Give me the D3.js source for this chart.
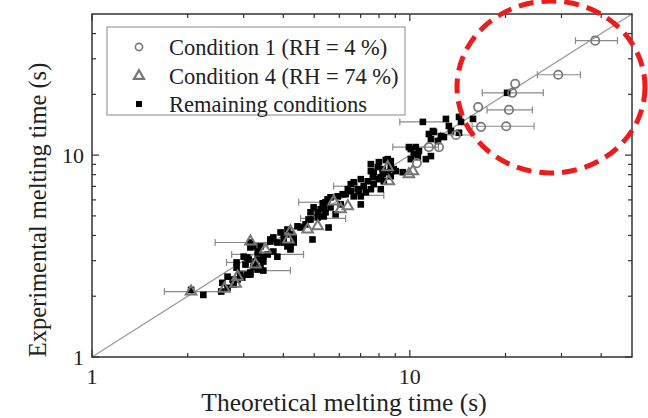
<!DOCTYPE html>
<html><head><meta charset="utf-8">
<script src="https://cdn.jsdelivr.net/npm/d3@7/dist/d3.min.js"></script>
<style>body{margin:0;background:#fff}svg{display:block}</style>
</head><body>
<svg id="c" width="648" height="418"></svg>
<script>
// ---- data ----
const xDomain = [1, 50];
const yDomain = [1, 50];
const majorTicks = [1, 10];
const minorTicks = [2,3,4,5,6,7,8,9,20,30,40];
const tickLabels = ["1", "10"];
const xTitle = "Theoretical melting time (s)";
const yTitle = "Experimental melting time (s)";
const legendLabels = ["Condition 1 (RH = 4 %)", "Condition 4 (RH = 74 %)", "Remaining conditions"];

// Condition 1 (open circles)
const cond1X = [38.3, 29.3, 21.45, 21.0, 16.4, 20.5, 16.75, 20.1, 13.97, 12.35, 11.48, 10.52];
const cond1Y = [36.9, 25.0, 22.55, 20.35, 17.3, 16.75, 13.8, 13.9, 12.58, 10.96, 10.96, 9.13];

// Condition 4 (open triangles)
const cond4X = [2.05, 2.61, 2.83, 2.87, 3.15, 3.51, 3.27, 4.15, 4.21, 4.77, 5.13, 5.76, 6.06, 6.38, 8.52, 8.59, 9.93, 10.22];
const cond4Y = [2.11, 2.18, 2.31, 2.50, 3.73, 3.41, 2.87, 3.82, 4.19, 4.28, 4.44, 5.90, 5.39, 5.58, 8.72, 7.42, 8.04, 8.33];

// Remaining conditions (filled squares)
const remX = [2.05,2.24,2.55,2.67,2.79,2.87,2.97,3.08,3.15,2.85,3.00,3.11,3.22,3.32,3.15,3.22,3.34,3.46,3.32,3.46,
  3.39,3.46,2.57,2.77,2.93,3.57,3.64,3.72,3.83,3.92,4.01,4.01,4.12,4.12,4.21,4.21,4.31,4.31,4.43,3.72,
  3.83,3.32,3.39,3.15,3.08,3.15,4.87,5.13,5.36,5.55,4.94,5.32,5.63,5.51,5.24,5.36,5.63,5.13,5.43,4.80,
  6.52,6.28,6.52,6.66,6.91,7.01,7.16,7.27,7.37,7.54,7.54,7.65,7.70,7.70,7.93,7.99,7.99,8.10,8.22,8.28,
  8.52,8.52,8.71,8.71,9.03,9.50,10.07,10.44,10.68,10.29,10.07,10.60,11.65,10.99,11.48,11.91,11.65,12.26,12.99,14.28,
  15.80,13.27,11.82,12.80,20.23,8.40,7.54,8.22,8.71,8.10,6.66,6.38,6.15,6.85,7.01,5.93,5.43,4.98,4.87,8.90,
  11.23,9.93,3.64,4.21,2.67,3.04,3.27,4.53,4.70,5.84,6.06,14.49,12.53,14.28,13.47,7.01,2.85];
const remY = [2.15,2.03,2.11,2.20,2.28,2.42,2.47,2.56,2.62,2.77,3.14,3.04,2.80,2.71,3.69,3.53,3.33,3.14,3.04,2.97,
  2.77,2.68,2.33,2.42,2.56,3.22,3.73,3.91,3.69,4.14,3.95,3.69,4.28,3.53,4.05,3.41,3.91,3.69,4.44,3.33,
  3.14,3.29,3.53,3.49,3.11,2.56,4.80,4.91,4.97,4.38,3.82,5.77,6.18,6.04,5.39,5.58,5.51,5.21,5.21,4.80,
  7.18,6.40,6.62,6.25,6.62,7.60,7.01,6.55,7.42,8.33,6.78,7.77,8.23,7.18,8.72,9.23,7.60,6.78,8.04,7.42,
  9.55,8.23,9.34,8.82,8.33,8.23,10.71,10.96,10.47,10.12,9.55,9.77,9.89,14.60,12.72,13.02,12.01,11.74,15.11,15.46,
  15.11,13.94,13.16,12.29,20.35,9.45,9.02,8.52,7.86,7.77,7.34,6.78,6.40,6.78,6.25,6.25,5.84,5.51,5.21,8.52,
  9.55,10.96,3.82,3.53,2.50,2.87,2.97,4.38,4.54,5.09,5.70,14.60,12.43,12.90,13.16,5.70,2.94];

// Horizontal error bars: y value, lower x, upper x
const errY  = [2.11, 2.94, 3.69, 2.68, 3.22, 4.86, 5.84, 7.01, 6.32, 10.96, 14.60, 12.58, 16.75, 20.35, 13.9, 25.0, 36.9];
const errLo = [1.69, 2.65, 2.44, 2.85, 2.75, 4.53, 4.47, 5.76, 6.61, 8.84, 9.30, 12.5, 17.5, 16.9, 15.7, 25.2, 33.2];
const errHi = [2.53, 3.10, 4.05, 4.21, 4.63, 6.28, 5.50, 6.85, 8.28, 12.3, 13.2, 15.9, 24.3, 26.3, 24.6, 34.4, 45.0];

// ---- chart ----
const svg = d3.select("#c");
const L = 92, R = 632, T = 14, B = 357;
const x = d3.scaleLog().domain(xDomain).range([L, R]);
const y = d3.scaleLog().domain(yDomain).range([B, T]);
const serif = "'Liberation Serif','Times New Roman',serif";
const axisCol = "#333";
const markCol = "#777";

// error bars
const eb = svg.append("g").attr("stroke", "#8a8a8a").attr("stroke-width", 1.2).attr("fill", "none");
errY.forEach((v, i) => {
  eb.append("line").attr("x1", x(errLo[i])).attr("x2", x(errHi[i])).attr("y1", y(v)).attr("y2", y(v));
  [errLo[i], errHi[i]].forEach(e => eb.append("line").attr("x1", x(e)).attr("x2", x(e)).attr("y1", y(v) - 3.5).attr("y2", y(v) + 3.5));
});

// diagonal
svg.append("line").attr("x1", x(1)).attr("y1", y(1)).attr("x2", x(50)).attr("y2", y(50))
  .attr("stroke", "#9a9a9a").attr("stroke-width", 1.3);

// squares
svg.append("g").selectAll("rect").data(d3.range(remX.length)).join("rect")
  .attr("x", i => x(remX[i]) - 3.3).attr("y", i => y(remY[i]) - 3.3)
  .attr("width", 6.6).attr("height", 6.6).attr("fill", "#000");

// triangles
const tri = d3.symbol().type(d3.symbolTriangle).size(48);
svg.append("g").selectAll("path").data(d3.range(cond4X.length)).join("path")
  .attr("d", tri).attr("transform", i => `translate(${x(cond4X[i])},${y(cond4Y[i])})`)
  .attr("fill", "none").attr("stroke", markCol).attr("stroke-width", 2);

// circles
svg.append("g").selectAll("circle").data(d3.range(cond1X.length)).join("circle")
  .attr("cx", i => x(cond1X[i])).attr("cy", i => y(cond1Y[i])).attr("r", 4.2)
  .attr("fill", "none").attr("stroke", markCol).attr("stroke-width", 1.7);

// frame
svg.append("rect").attr("x", L).attr("y", T).attr("width", R - L).attr("height", B - T)
  .attr("fill", "none").attr("stroke", axisCol).attr("stroke-width", 1.5);

// ticks (inward on all four sides)
const tg = svg.append("g").attr("stroke", axisCol).attr("stroke-width", 1.2);
const allTicks = majorTicks.concat(minorTicks);
allTicks.forEach(t => {
  const len = majorTicks.includes(t) ? 7 : 4;
  tg.append("line").attr("x1", x(t)).attr("x2", x(t)).attr("y1", B).attr("y2", B - len);
  tg.append("line").attr("x1", x(t)).attr("x2", x(t)).attr("y1", T).attr("y2", T + len);
  tg.append("line").attr("y1", y(t)).attr("y2", y(t)).attr("x1", L).attr("x2", L + len);
  tg.append("line").attr("y1", y(t)).attr("y2", y(t)).attr("x1", R).attr("x2", R - len);
});

// tick labels
majorTicks.forEach((t, i) => {
  svg.append("text").attr("x", x(t)).attr("y", 384).attr("text-anchor", "middle")
    .attr("font-family", serif).attr("font-size", 22).attr("fill", "#222").text(tickLabels[i]);
  svg.append("text").attr("x", 84).attr("y", y(t)).attr("dy", "0.35em").attr("text-anchor", "end")
    .attr("font-family", serif).attr("font-size", 22).attr("fill", "#222").text(tickLabels[i]);
});

// axis titles
svg.append("text").attr("x", 344).attr("y", 411).attr("text-anchor", "middle")
  .attr("font-family", serif).attr("font-size", 25.5).attr("fill", "#222").text(xTitle);
svg.append("text").attr("transform", "translate(46,210) rotate(-90)").attr("text-anchor", "middle")
  .attr("font-family", serif).attr("font-size", 24.5).attr("fill", "#222").text(yTitle);

// legend
svg.append("rect").attr("x", 107).attr("y", 27).attr("width", 298).attr("height", 88)
  .attr("fill", "#fff").attr("stroke", "#888").attr("stroke-width", 1);
const lgY = [47, 76, 104];
svg.append("circle").attr("cx", 139).attr("cy", lgY[0]).attr("r", 3.6)
  .attr("fill", "none").attr("stroke", markCol).attr("stroke-width", 1.6);
svg.append("path").attr("d", d3.symbol().type(d3.symbolTriangle).size(44))
  .attr("transform", `translate(139,${lgY[1]})`).attr("fill", "none").attr("stroke", markCol).attr("stroke-width", 2.2);
svg.append("rect").attr("x", 136).attr("y", lgY[2] - 3).attr("width", 6).attr("height", 6).attr("fill", "#000");
legendLabels.forEach((s, i) => {
  svg.append("text").attr("x", 169).attr("y", lgY[i]).attr("dy", "0.34em")
    .attr("font-family", serif).attr("font-size", 22.5).attr("fill", "#222").text(s);
});

// red dashed annotation ellipse
svg.append("ellipse").attr("cx", 551).attr("cy", 87).attr("rx", 94).attr("ry", 86)
  .attr("fill", "none").attr("stroke", "#ec1c1c").attr("stroke-width", 5)
  .attr("stroke-dasharray", "15 8");
</script>
</body></html>
